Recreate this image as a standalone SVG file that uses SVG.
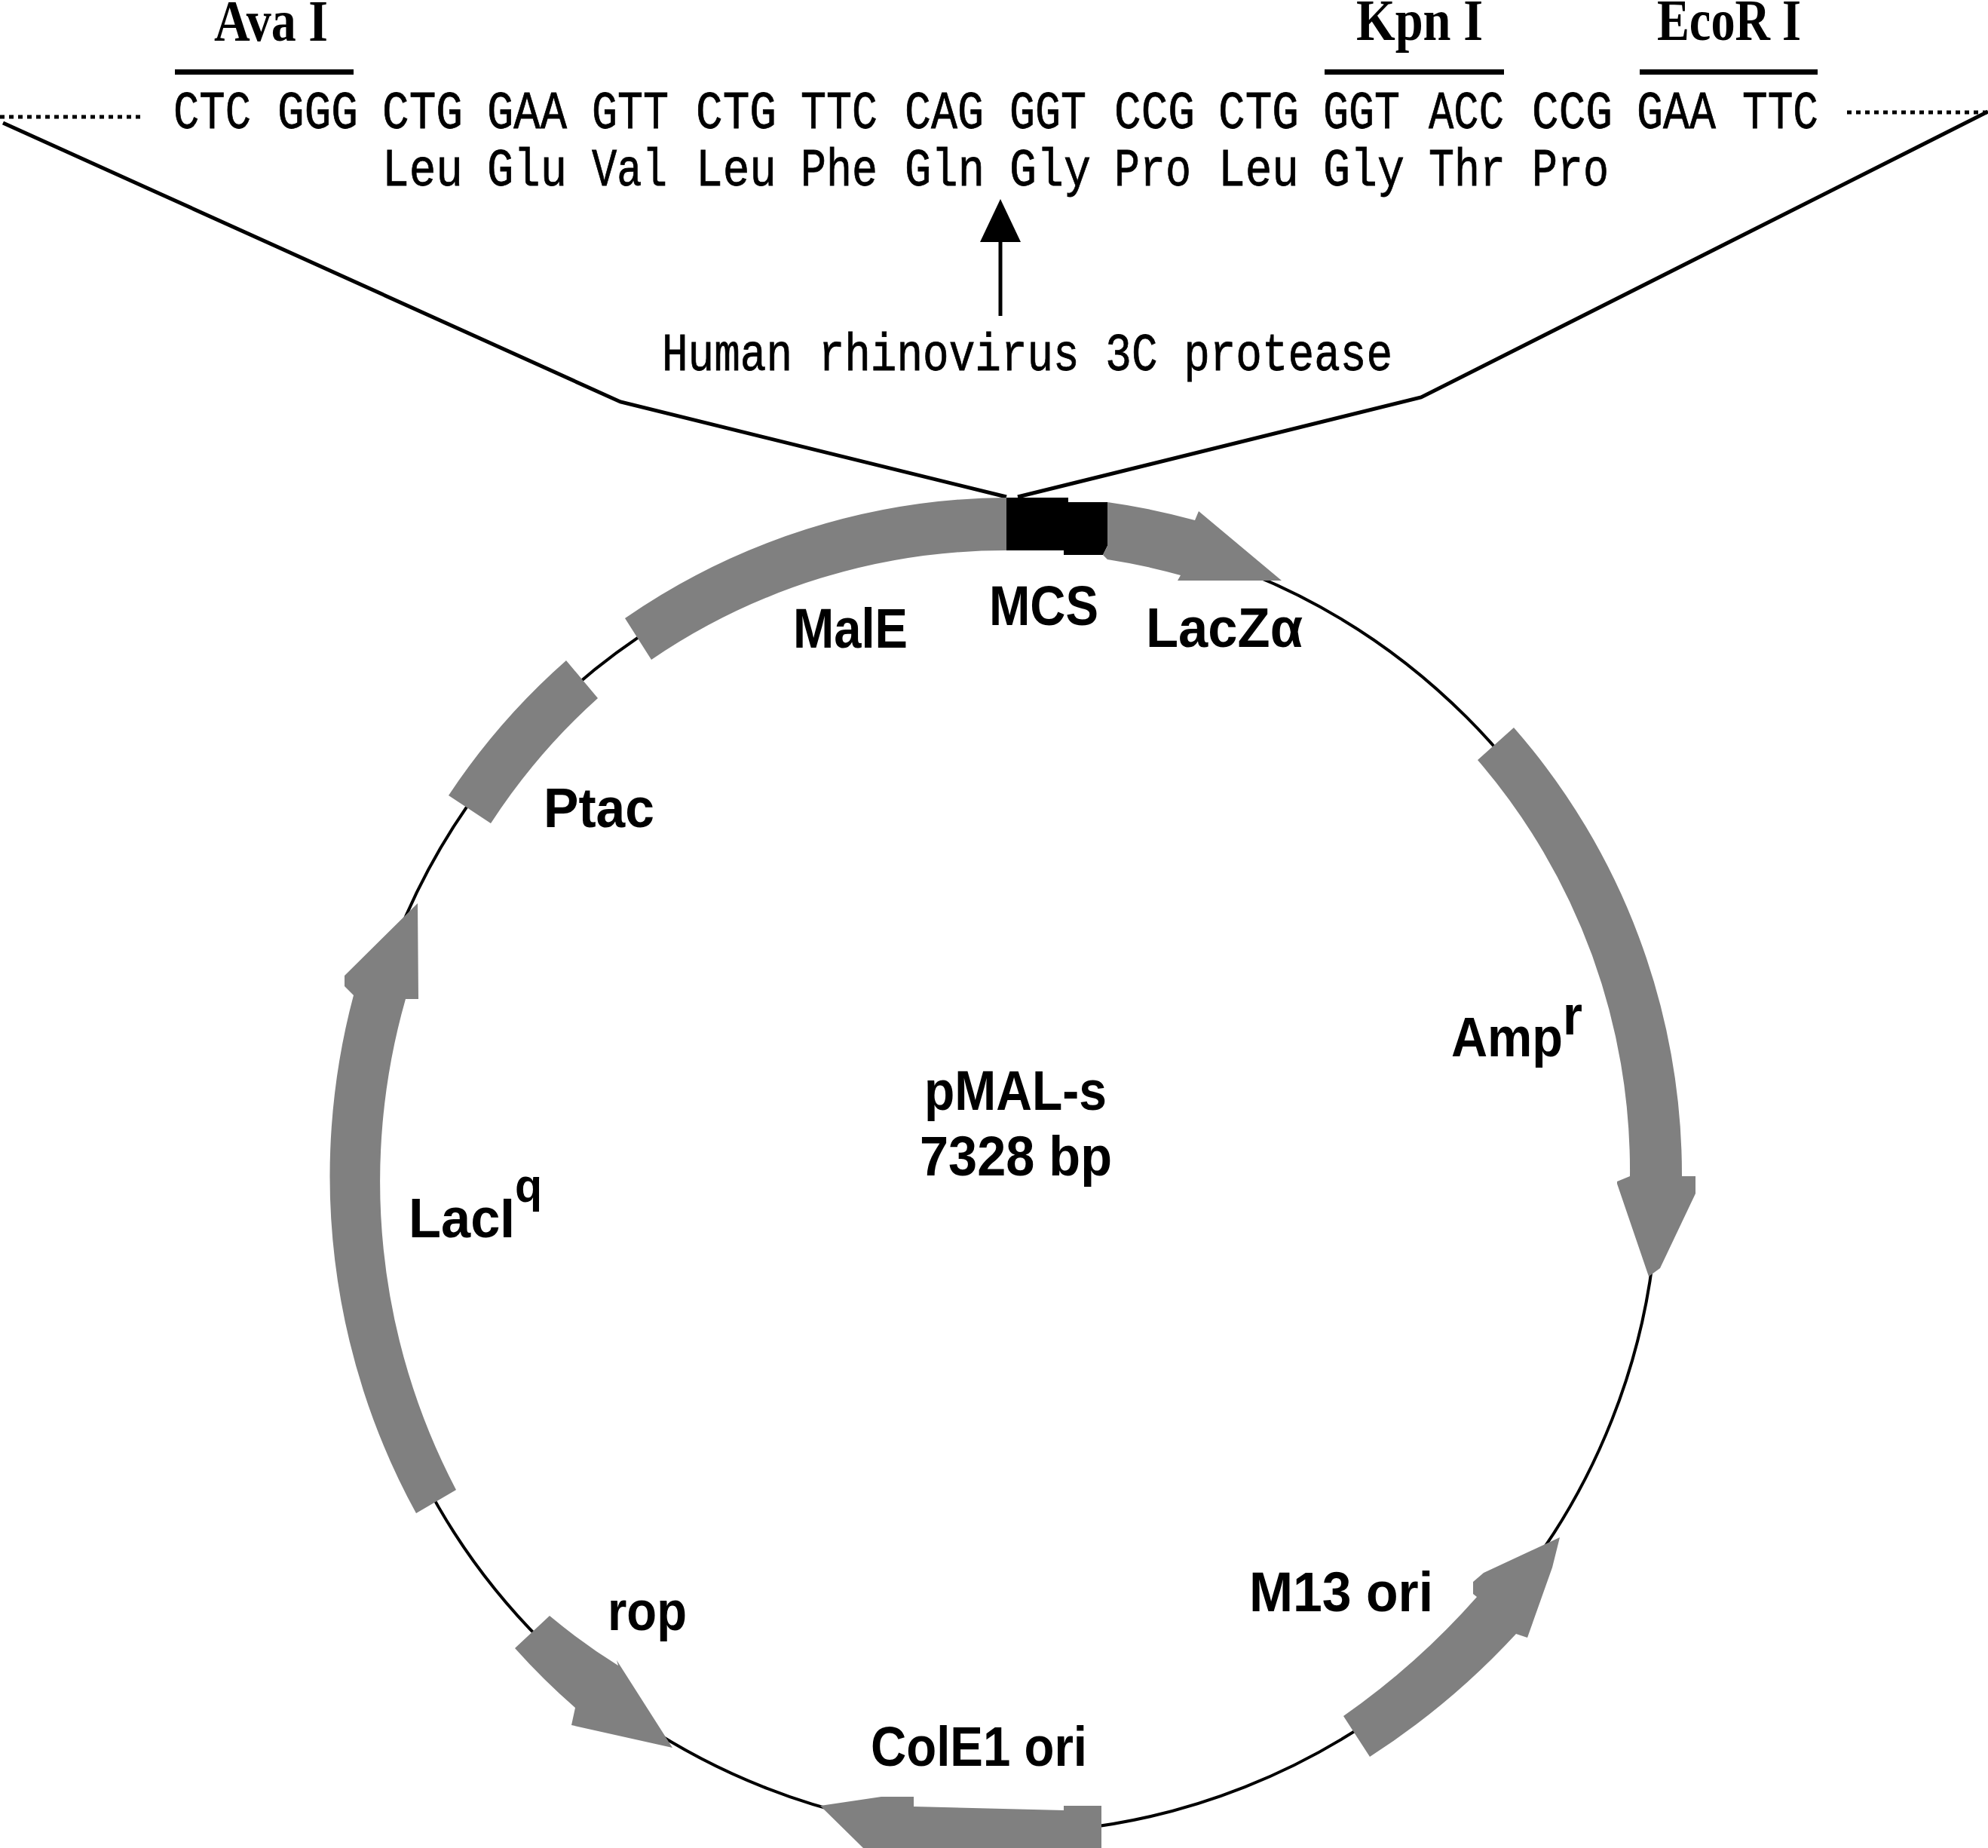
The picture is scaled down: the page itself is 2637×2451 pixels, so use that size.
<svg xmlns="http://www.w3.org/2000/svg" width="2637" height="2451" viewBox="0 0 2637 2451">
<style>
.gene{fill:#808080;stroke:none}
.mcs{fill:#000;stroke:none}
.line{fill:none;stroke:#000;stroke-width:5}
.thin{fill:none;stroke:#000;stroke-width:4}
.dot{fill:none;stroke:#000;stroke-width:5;stroke-dasharray:6 6}
.bar{fill:#000}
text{fill:#000}
.seq{font-family:"Liberation Mono",monospace;font-size:70px;font-weight:400;stroke:#000;stroke-width:.8px}
.site{font-family:"Liberation Serif",serif;font-size:78px;font-weight:700}
.lab{font-family:"Liberation Sans",Arial,sans-serif;font-size:75px;font-weight:700}
</style>
<defs>
<marker id="head" markerUnits="userSpaceOnUse" markerWidth="54" markerHeight="58" refX="27" refY="57" orient="0" viewBox="0 0 54 58">
<path d="M27,0L54,57L0,57Z" fill="#000"/>
</marker>
</defs>
<rect width="2637" height="2451" fill="#fff"/>
<g id="connectors">
<circle class="thin" cx="1332" cy="1564" r="867"/>
<path class="line" d="M4,163L823,533L1335,659"/>
<path class="line" d="M2637,148L1885,527L1350,659"/>
<path class="dot" d="M0,155H192"/>
<path class="dot" d="M2450,149H2637"/>
<path class="line" d="M1327,419V321" marker-end="url(#head)"/>
</g>
<g id="MalE"><path class="gene" d="M829,820A900,900 0 0 1 1335,660V730A833,833 0 0 0 864,875Z"/>
<text class="lab" x="1052" y="859" textLength="152" lengthAdjust="spacingAndGlyphs">MalE</text></g>
<g id="Ptac"><path class="gene" d="M595,1055A900,900 0 0 1 751,876L793,926A833,833 0 0 0 651,1092Z"/>
<text class="lab" x="721" y="1097" textLength="147" lengthAdjust="spacingAndGlyphs">Ptac</text></g>
<g id="LacI"><path class="gene" d="M552,2007A930,930 0 0 1 469,1320L457,1308V1294L554,1198L555,1325H538A880,880 0 0 0 605,1976Z"/>
<text class="lab" x="542" y="1641" textLength="177" lengthAdjust="spacingAndGlyphs">LacI<tspan dy="-47" style="font-size:63px">q</tspan></text></g>
<g id="MCS"><path class="mcs" d="M1335,660H1417V666H1469V724L1463,736H1411V730H1335Z"/>
<text class="lab" x="1312" y="829" textLength="145" lengthAdjust="spacingAndGlyphs">MCS</text></g>
<g id="LacZ"><path class="gene" d="M1469,666A900,900 0 0 1 1585,690L1590,678L1700,770H1562L1566,763A833,833 0 0 0 1469,742L1463,736L1469,724Z"/>
<text class="lab" x="1520" y="858" textLength="208" lengthAdjust="spacingAndGlyphs">LacZα</text></g>
<g id="Amp"><path class="gene" d="M2008,965A900,900 0 0 1 2231,1560H2249V1583L2202,1682L2187,1693L2145,1570V1567L2162,1560A833,833 0 0 0 1960,1008Z"/>
<text class="lab" x="1925" y="1401" textLength="174" lengthAdjust="spacingAndGlyphs">Amp<tspan dy="-29">r</tspan></text></g>
<g id="M13"><path class="gene" d="M1782,2276L1817,2330A1000,1000 0 0 0 2011,2167L2026,2172L2059,2079L2069,2039L1968,2086L1954,2098V2114L1959,2118A1000,1000 0 0 1 1782,2276Z"/>
<text class="lab" x="1657" y="2137" textLength="244" lengthAdjust="spacingAndGlyphs">M13 ori</text></g>
<g id="ColE1"><path class="gene" d="M1088,2395L1169,2383H1212V2396L1411,2401V2395H1461V2451H1145Z"/>
<text class="lab" x="1155" y="2342" textLength="287" lengthAdjust="spacingAndGlyphs">ColE1 ori</text></g>
<g id="rop"><path class="gene" d="M729,2143L683,2186A900,900 0 0 0 763,2265L758,2288L892,2318L818,2202L820,2209A833,833 0 0 1 729,2143Z"/>
<text class="lab" x="806" y="2162" textLength="105" lengthAdjust="spacingAndGlyphs">rop</text></g>
<g id="plasmid-name">
<text class="lab" x="1226" y="1472" textLength="242" lengthAdjust="spacingAndGlyphs">pMAL-s</text>
<text class="lab" x="1220" y="1559" textLength="255" lengthAdjust="spacingAndGlyphs">7328 bp</text>
</g>
<g id="sites">
<text class="site" x="284" y="54" textLength="151" lengthAdjust="spacingAndGlyphs">Ava I</text>
<text class="site" x="1799" y="53" textLength="168" lengthAdjust="spacingAndGlyphs">Kpn I</text>
<text class="site" x="2198" y="53" textLength="191" lengthAdjust="spacingAndGlyphs">EcoR I</text>
<rect class="bar" x="232" y="92" width="237" height="7"/>
<rect class="bar" x="1757" y="92" width="238" height="7"/>
<rect class="bar" x="2175" y="92" width="236" height="7"/>
</g>
<g id="nucleotides">
<text class="seq" x="230" y="170" textLength="103" lengthAdjust="spacingAndGlyphs">CTC</text>
<text class="seq" x="368" y="170" textLength="107" lengthAdjust="spacingAndGlyphs">GGG</text>
<text class="seq" x="507" y="170" textLength="107" lengthAdjust="spacingAndGlyphs">CTG</text>
<text class="seq" x="646" y="170" textLength="106" lengthAdjust="spacingAndGlyphs">GAA</text>
<text class="seq" x="785" y="170" textLength="102" lengthAdjust="spacingAndGlyphs">GTT</text>
<text class="seq" x="923" y="170" textLength="107" lengthAdjust="spacingAndGlyphs">CTG</text>
<text class="seq" x="1062" y="170" textLength="102" lengthAdjust="spacingAndGlyphs">TTC</text>
<text class="seq" x="1200" y="170" textLength="105" lengthAdjust="spacingAndGlyphs">CAG</text>
<text class="seq" x="1339" y="170" textLength="102" lengthAdjust="spacingAndGlyphs">GGT</text>
<text class="seq" x="1478" y="170" textLength="107" lengthAdjust="spacingAndGlyphs">CCG</text>
<text class="seq" x="1616" y="170" textLength="107" lengthAdjust="spacingAndGlyphs">CTG</text>
<text class="seq" x="1755" y="170" textLength="102" lengthAdjust="spacingAndGlyphs">GGT</text>
<text class="seq" x="1895" y="170" textLength="100" lengthAdjust="spacingAndGlyphs">ACC</text>
<text class="seq" x="2032" y="170" textLength="107" lengthAdjust="spacingAndGlyphs">CCG</text>
<text class="seq" x="2171" y="170" textLength="105" lengthAdjust="spacingAndGlyphs">GAA</text>
<text class="seq" x="2311" y="170" textLength="101" lengthAdjust="spacingAndGlyphs">TTC</text>
</g>
<g id="aminoacids">
<text class="seq" x="507" y="246" textLength="107" lengthAdjust="spacingAndGlyphs">Leu</text>
<text class="seq" x="646" y="246" textLength="106" lengthAdjust="spacingAndGlyphs">Glu</text>
<text class="seq" x="785" y="246" textLength="100" lengthAdjust="spacingAndGlyphs">Val</text>
<text class="seq" x="923" y="246" textLength="107" lengthAdjust="spacingAndGlyphs">Leu</text>
<text class="seq" x="1062" y="246" textLength="102" lengthAdjust="spacingAndGlyphs">Phe</text>
<text class="seq" x="1200" y="246" textLength="106" lengthAdjust="spacingAndGlyphs">Gln</text>
<text class="seq" x="1339" y="246" textLength="108" lengthAdjust="spacingAndGlyphs">Gly</text>
<text class="seq" x="1478" y="246" textLength="102" lengthAdjust="spacingAndGlyphs">Pro</text>
<text class="seq" x="1616" y="246" textLength="107" lengthAdjust="spacingAndGlyphs">Leu</text>
<text class="seq" x="1755" y="246" textLength="108" lengthAdjust="spacingAndGlyphs">Gly</text>
<text class="seq" x="1895" y="246" textLength="102" lengthAdjust="spacingAndGlyphs">Thr</text>
<text class="seq" x="2032" y="246" textLength="102" lengthAdjust="spacingAndGlyphs">Pro</text>
</g>
<g id="protease">
<text class="seq" x="878" y="491" textLength="969" lengthAdjust="spacingAndGlyphs">Human rhinovirus 3C protease</text>
</g>
</svg>
